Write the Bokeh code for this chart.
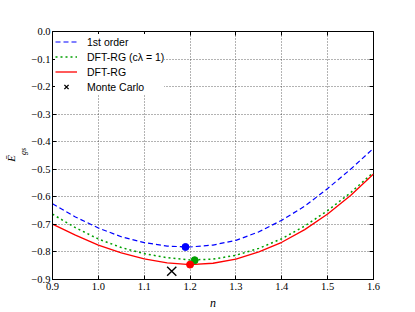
from bokeh.plotting import figure
from bokeh.models import Range1d, FixedTicker, CustomJSTickFormatter, LinearAxis
from bokeh.embed import file_html
from bokeh.resources import INLINE

# ---- data ----
n_vals = [0.90, 0.95, 1.00, 1.05, 1.10, 1.15, 1.20, 1.25, 1.30, 1.35, 1.40, 1.45, 1.50, 1.55, 1.60]
first_order = [-0.625, -0.673, -0.713, -0.745, -0.766, -0.779, -0.782, -0.775, -0.758,
               -0.727, -0.685, -0.634, -0.570, -0.500, -0.424]
dft_rg_c1 = [-0.663, -0.712, -0.753, -0.784, -0.806, -0.821, -0.829, -0.826, -0.812,
             -0.787, -0.752, -0.706, -0.650, -0.585, -0.511]
dft_rg = [-0.699, -0.739, -0.775, -0.803, -0.825, -0.840, -0.846, -0.841, -0.826,
          -0.800, -0.765, -0.719, -0.662, -0.595, -0.517]

min_first_n, min_first_e = [1.19], [-0.782]
min_c1_n, min_c1_e = [1.21], [-0.830]
min_rg_n, min_rg_e = [1.20], [-0.846]
mc_n, mc_e = [1.16], [-0.870]

x_ticks = [0.9, 1.0, 1.1, 1.2, 1.3, 1.4, 1.5, 1.6]
y_ticks = [0.0, -0.1, -0.2, -0.3, -0.4, -0.5, -0.6, -0.7, -0.8, -0.9]

BLUE = "#0000ff"
GREEN = "#00a000"
RED = "#ff0000"
NBSP = "\u00a0"

p = figure(width=415, height=312, output_backend="svg", toolbar_location=None,
           x_range=Range1d(0.9, 1.6), y_range=Range1d(-0.9, 0.0),
           min_border_left=52, min_border_right=42, min_border_top=31, min_border_bottom=32)
p.background_fill_color = "white"
p.border_fill_color = "white"
p.outline_line_color = "black"
p.outline_line_width = 1

fmt = CustomJSTickFormatter(code="return tick.toFixed(1).replace('-', '\\u2212');")
xt = FixedTicker(ticks=x_ticks)
yt = FixedTicker(ticks=y_ticks)

for ax, tk in ((p.xaxis[0], xt), (p.yaxis[0], yt)):
    ax.ticker = tk
    ax.formatter = fmt
    ax.major_label_text_font = "Liberation Serif"
    ax.major_label_text_font_size = "10.5px"
    ax.major_label_text_color = "black"
    ax.major_label_standoff = 3
    ax.major_tick_in = 4
    ax.major_tick_out = 0
    ax.minor_tick_out = 0
    ax.major_tick_line_color = "black"
    ax.minor_tick_line_color = None
    ax.axis_line_color = "black"
    ax.axis_label_text_font = "Liberation Serif"
    ax.axis_label_text_font_style = "italic"
    ax.axis_label_text_color = "black"

p.yaxis[0].major_label_standoff = 2

# x axis label
p.xaxis[0].axis_label = "n"
p.xaxis[0].axis_label_text_font_size = "12px"
p.xaxis[0].axis_label_standoff = 3

# y axis label: subscript "gs" on the inner axis, overlined E on an outer axis
p.yaxis[0].axis_label = NBSP * 4 + "gs"
p.yaxis[0].axis_label_text_font_size = "8px"
p.yaxis[0].axis_label_standoff = 0

outer_y = LinearAxis(ticker=FixedTicker(ticks=[]), axis_label="\u0112" + NBSP * 2,
                     axis_label_text_font="Liberation Serif", axis_label_text_font_style="italic",
                     axis_label_text_font_size="11px", axis_label_text_color="black",
                     axis_label_standoff=0, axis_line_color=None, major_tick_line_color=None,
                     minor_tick_line_color=None, major_tick_in=0, major_tick_out=0,
                     minor_tick_in=0, minor_tick_out=0, major_label_standoff=0)
p.add_layout(outer_y, "left")

# inward ticks on the top and right sides too (labels not drawn)
top_ax = LinearAxis(ticker=xt, formatter=fmt, major_label_text_color=None,
                    major_tick_in=4, major_tick_out=0, minor_tick_in=0, minor_tick_out=0,
                    minor_tick_line_color=None, axis_line_color=None, major_label_standoff=0)
right_ax = LinearAxis(ticker=yt, formatter=fmt, major_label_text_color=None,
                      major_tick_in=4, major_tick_out=0, minor_tick_in=0, minor_tick_out=0,
                      minor_tick_line_color=None, axis_line_color=None, major_label_standoff=0)
p.add_layout(top_ax, "above")
p.add_layout(right_ax, "right")

p.xgrid.ticker = xt
p.ygrid.ticker = yt
for g in (p.xgrid, p.ygrid):
    g.grid_line_color = "black"
    g.grid_line_alpha = 0.6
    g.grid_line_dash = "1 2"
    g.grid_line_width = 1

p.line(n_vals, first_order, color=BLUE, line_width=1.2, line_dash="5 3", legend_label="1st order")
p.line(n_vals, dft_rg_c1, color=GREEN, line_width=1.5, line_dash="2 3",
       legend_label="DFT-RG (c\u03bb = 1)")
p.line(n_vals, dft_rg, color=RED, line_width=1.3, legend_label="DFT-RG")
p.scatter(mc_n, mc_e, marker="x", size=13, line_color="black", line_width=1.4,
          legend_label="Monte Carlo")

p.scatter(min_first_n, min_first_e, marker="circle", size=7, fill_color=BLUE, line_color=BLUE)
p.scatter(min_c1_n, min_c1_e, marker="circle", size=7, fill_color=GREEN, line_color=GREEN)
p.scatter(min_rg_n, min_rg_e, marker="circle", size=7, fill_color=RED, line_color=RED)

lg = p.legend[0]
lg.location = "top_left"
lg.margin = 3
lg.padding = 4
lg.spacing = 0
lg.label_height = 15
lg.glyph_height = 15
lg.glyph_width = 22
lg.label_standoff = 10
lg.border_line_color = None
lg.background_fill_color = "white"
lg.background_fill_alpha = 1.0
lg.label_text_font = "Liberation Sans"
lg.label_text_font_size = "10.5px"
lg.label_text_color = "black"

open("out.html", "w").write(file_html(p, INLINE))
